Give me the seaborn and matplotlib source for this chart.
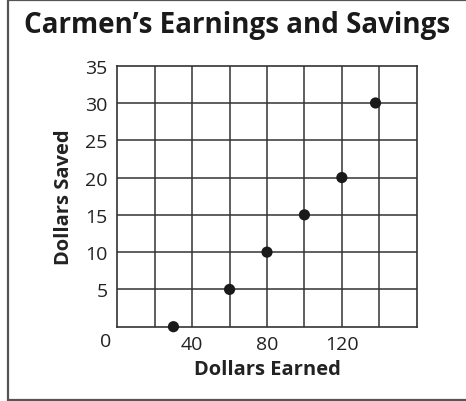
import matplotlib
matplotlib.use("Agg")
import matplotlib.pyplot as plt
from matplotlib.patches import Rectangle
import seaborn as sns
import pandas as pd

# Earnings and savings
dollars_earned = [30, 60, 80, 100, 120, 138]
dollars_saved = [0, 5, 10, 15, 20, 30]

x_ticks = [40, 80, 120]
y_ticks = [5, 10, 15, 20, 25, 30, 35]

df = pd.DataFrame({"earned": dollars_earned, "saved": dollars_saved})

sns.set_style("white")
plt.rcParams["font.family"] = ["Open Sans", "DejaVu Sans"]

fig = plt.figure(figsize=(4.66, 4.02), dpi=100)
ax = fig.add_axes([117.3 / 466, 1 - 327.7 / 402, (416.7 - 117.3) / 466, (327.7 - 66.7) / 402])

grid_color = "#333333"
for gx in range(20, 160, 20):
    ax.axvline(gx, color=grid_color, lw=1.1, zorder=1)
for gy in range(5, 35, 5):
    ax.axhline(gy, color=grid_color, lw=1.1, zorder=1)

sns.scatterplot(data=df, x="earned", y="saved", ax=ax, s=65, color="#1a1a1a",
                edgecolor="none", zorder=3, clip_on=False)

ax.set_xlim(0, 160)
ax.set_ylim(0, 35)
ax.set_xticks(x_ticks)
ax.set_yticks(y_ticks)
ax.set_xticklabels([str(t) for t in x_ticks])
ax.set_yticklabels([str(t) for t in y_ticks])
ax.tick_params(axis="both", length=0, labelsize=14, colors="#222222", pad=6)
ax.tick_params(axis="y", pad=7)
for sp in ax.spines.values():
    sp.set_color(grid_color)
    sp.set_linewidth(1.2)

ax.set_xlabel("Dollars Earned", fontsize=14.5, fontweight="bold", color="#222222", labelpad=4)
ax.set_ylabel("Dollars Saved", fontsize=14.5, fontweight="bold", color="#222222", labelpad=8)

# origin label
fig.text(106 / 466, 1 - 342 / 402, "0", fontsize=14, color="#222222",
         ha="center", va="center")

fig.text(237.5 / 466, 1 - 25 / 402, "Carmen\u2019s Earnings and Savings", fontsize=20,
         fontweight="bold", color="#1a1a1a", ha="center", va="center")

# outer frame, open on the right
fig.add_artist(plt.Line2D([7.5 / 466, 7.5 / 466], [0.5 / 402, 401.5 / 402],
                          transform=fig.transFigure, color="#555555", lw=1.6))
fig.add_artist(plt.Line2D([7.5 / 466, 1], [401.2 / 402, 401.2 / 402],
                          transform=fig.transFigure, color="#555555", lw=1.6))
fig.add_artist(plt.Line2D([7.5 / 466, 1], [0.8 / 402, 0.8 / 402],
                          transform=fig.transFigure, color="#555555", lw=1.6))

fig.savefig("out.png", dpi=100)
